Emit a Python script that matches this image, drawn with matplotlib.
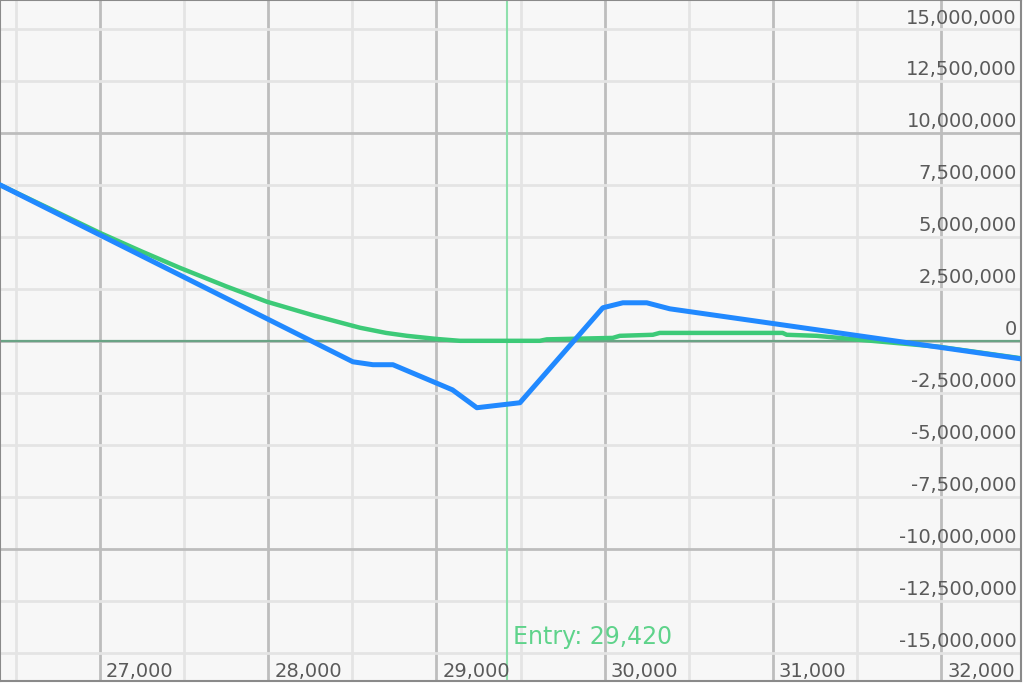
import numpy as np
import matplotlib.pyplot as plt
from matplotlib.ticker import MultipleLocator

# price axis (x) and P/L (y, in millions)
blue_x = [26406, 28503, 28622, 28741, 29095, 29240, 29496, 29989, 30108, 30250, 30387, 32475]
blue_y = [7.5, -1.01, -1.15, -1.15, -2.36, -3.22, -2.98, 1.59, 1.83, 1.83, 1.54, -0.87]

green_x = [26406, 26703, 27000, 27250, 27475, 27750, 27992, 28270, 28545, 28700, 28824, 29000,
           29139, 29614, 29656, 30048, 30090, 30286, 30327, 31058, 31082, 31260, 31516, 31991, 32475]
green_y = [7.5, 6.35, 5.19, 4.29, 3.51, 2.62, 1.88, 1.22, 0.63, 0.38, 0.24, 0.09,
           0.0, 0.0, 0.07, 0.14, 0.24, 0.29, 0.38, 0.38, 0.29, 0.24, 0.05, -0.29, -0.84]

entry = 29420
x_labels = [27000, 28000, 29000, 30000, 31000, 32000]
y_labels = np.arange(-15, 15.1, 2.5)  # millions

fig = plt.figure(figsize=(10.24, 6.83), dpi=100)
ax = fig.add_axes([0.0, 2/683, 1021/1024, 681/683])
ax.set_facecolor('#f7f7f7')
fig.patch.set_facecolor('white')

ax.set_xlim(26405, 32475)
ax.set_ylim(-16.37e6, 16.4e6)

#grid: light every 500 / 2.5M, darker every 1000 / 10M
ax.xaxis.set_major_locator(MultipleLocator(1000))
ax.xaxis.set_minor_locator(MultipleLocator(500))
ax.yaxis.set_major_locator(MultipleLocator(10e6))
ax.yaxis.set_minor_locator(MultipleLocator(2.5e6))
ax.grid(which='minor', color='#e4e4e4', lw=2)
ax.grid(which='major', color='#bdbdbd', lw=2)
ax.tick_params(which='both', length=0, labelbottom=False, labelleft=False)
ax.set_axisbelow(True)
for s in ax.spines.values():
    s.set_color('#8a8a8a')
    s.set_linewidth(1.5)

ax.axhline(0, color='#6aa385', lw=1.6, zorder=1.5)
ax.axvline(entry, color='#8fe0ad', lw=1.5, zorder=1.5)

ax.plot(green_x, np.array(green_y)*1e6, color='#3dca78', lw=3.2, zorder=3)
ax.plot(blue_x, np.array(blue_y)*1e6, color='#2189ff', lw=3.6, zorder=4)

for v in x_labels:
    ax.annotate(f'{v:,}', xy=(v, 0), xycoords=('data', 'axes fraction'),
                xytext=(4.3, 3), textcoords='offset points',
                ha='left', va='baseline', fontsize=14, color='#5a5a5a')
for v in y_labels:
    ax.annotate(f'{int(v*1e6):,}', xy=(1, v*1e6), xycoords=('axes fraction', 'data'),
                xytext=(-3, 4), textcoords='offset points',
                ha='right', va='baseline', fontsize=14, color='#5a5a5a')

ax.annotate(f'Entry: {entry:,}', xy=(entry, 0), xycoords=('data', 'axes fraction'),
            xytext=(4.3, 26.6), textcoords='offset points',
            ha='left', va='baseline', fontsize=17, color='#5fd38b')

plt.savefig('out.png', dpi=100)
